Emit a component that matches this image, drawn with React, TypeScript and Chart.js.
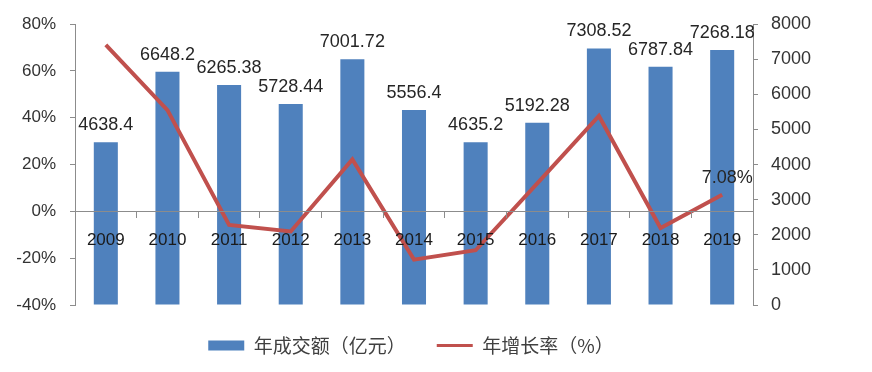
import React, { useEffect, useRef } from 'react';
import { Chart, registerables } from 'chart.js';

Chart.register(...registerables);

const years = ['2009', '2010', '2011', '2012', '2013', '2014', '2015', '2016', '2017', '2018', '2019'];
const volume = [4638.4, 6648.2, 6265.38, 5728.44, 7001.72, 5556.4, 4635.2, 5192.28, 7308.52, 6787.84, 7268.18];
const growth = [71.2, 43.3, -5.8, -8.6, 22.2, -20.6, -16.6, 12.0, 40.8, -7.1, 7.08];
const barName = '年成交额（亿元）';
const lineName = '年增长率（%）';

const LATIN = '"Liberation Sans", Arial, sans-serif';
const CJK = '"Noto Sans CJK SC", "Liberation Sans", sans-serif';
const AXIS = '#8c8c8c';

const labelPlugin = {
  id: 'valueLabels',
  afterDatasetsDraw(chart: any) {
    const ctx = chart.ctx;
    ctx.save();
    ctx.font = '18px ' + LATIN;
    ctx.fillStyle = '#262626';
    ctx.textAlign = 'center';
    ctx.textBaseline = 'alphabetic';
    const barMeta = chart.getDatasetMeta(0);
    barMeta.data.forEach((el: any, i: number) => {
      ctx.fillText(String(volume[i]), el.x, el.y - 12);
    });
    const lineMeta = chart.getDatasetMeta(1);
    const n = lineMeta.data.length - 1;
    const last = lineMeta.data[n];
    ctx.fillText(growth[n] + '%', last.x + 5, last.y - 12);
    ctx.restore();
  },
};

export default function App() {
  const ref = useRef<HTMLCanvasElement | null>(null);
  useEffect(() => {
    if (!ref.current) return;
    const chart = new Chart(ref.current, {
      type: 'bar',
      data: {
        labels: years,
        datasets: [
          {
            type: 'bar',
            label: barName,
            data: volume,
            yAxisID: 'y1',
            backgroundColor: '#4F81BD',
            borderWidth: 0,
            barPercentage: 0.39,
            categoryPercentage: 1,
            order: 1,
          } as any,
          {
            type: 'line',
            label: lineName,
            data: growth,
            yAxisID: 'y',
            borderColor: '#C0504D',
            backgroundColor: '#C0504D',
            borderWidth: 4,
            pointRadius: 0,
            pointStyle: 'line',
            tension: 0,
            order: 0,
          } as any,
        ],
      },
      options: {
        responsive: false,
        animation: false,
        layout: { padding: { top: 18, left: 0, right: 50, bottom: 7 } },
        plugins: {
          tooltip: { enabled: false },
          legend: {
            position: 'bottom',
            labels: {
              usePointStyle: true,
              pointStyleWidth: 36,
              boxHeight: 10,
              padding: 31,
              color: '#404040',
              font: { size: 19, family: CJK },
              sort: (a: any, b: any) => a.datasetIndex - b.datasetIndex,
              generateLabels: (chart: any) => {
                const items = Chart.defaults.plugins.legend.labels.generateLabels(chart);
                items.forEach((it: any) => {
                  if (it.datasetIndex === 0) {
                    it.pointStyle = 'rect';
                    it.lineWidth = 0;
                  } else {
                    it.pointStyle = 'line';
                    it.lineWidth = 3;
                    it.strokeStyle = '#C0504D';
                  }
                });
                return items;
              },
            },
          },
        },
        scales: {
          x: {
            position: { y: 0 } as any,
            offset: true,
            grid: { offset: true, drawOnChartArea: false, drawTicks: true, tickLength: 6, color: AXIS, z: 1 },
            border: { color: AXIS, z: 1 },
            ticks: { font: { size: 17, family: LATIN }, color: '#1a1a1a', padding: 13, maxRotation: 0, autoSkip: false, z: 1 },
          },
          y: {
            position: 'left',
            min: -40,
            max: 80,
            ticks: {
              stepSize: 20,
              callback: (v: any) => v + '%',
              font: { size: 17, family: LATIN },
              color: '#333333',
              padding: 14,
            },
            grid: { drawOnChartArea: false, tickLength: 5, color: AXIS },
            border: { color: AXIS },
            afterFit: (s: any) => { s.width = 75; },
          },
          y1: {
            position: 'right',
            min: 0,
            max: 8000,
            ticks: {
              stepSize: 1000,
              callback: (v: any) => String(v),
              font: { size: 18, family: LATIN },
              color: '#333333',
              padding: 13,
            },
            grid: { drawOnChartArea: false, tickLength: 5, color: AXIS },
            border: { color: AXIS },
            afterFit: (s: any) => { s.width = 69; },
          },
        },
      },
      plugins: [labelPlugin],
    } as any);
    return () => chart.destroy();
  }, []);
  return (
    <div style={{ position: 'absolute', left: 0, top: 0, width: 872, height: 372, background: '#fff' }}>
      <canvas ref={ref} width={872} height={372} style={{ display: 'block' }} />
    </div>
  );
}
